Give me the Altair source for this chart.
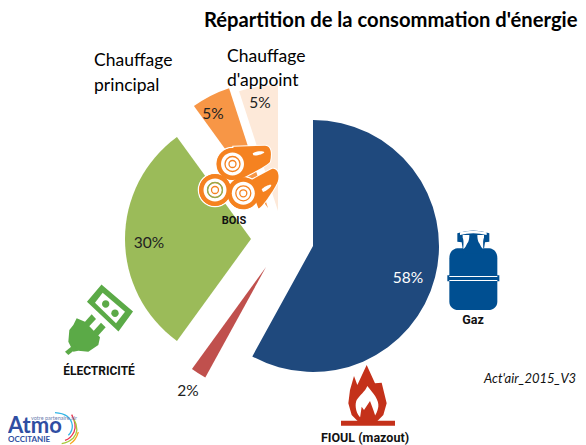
import re
import altair as alt
import pandas as pd

# ---- data
energies = ["Fioul", "Gaz/autre", "Électricité", "Bois principal", "Bois appoint"]
shares = [58, 2, 30, 5, 5]
share_labels = ["58%", "2%", "30%", "5%", "5%"]
colors = ["#1F497D", "#C0504D", "#9BBB59", "#F79646", "#FDE9D9"]
centre_x = [313, 266, 251, 268, 278]
centre_y = [246, 267, 239, 208, 211]
RADIUS = 126

W, H = 570, 437
px_x = alt.Scale(domain=[8, 8 + W], range=[0, W], nice=False, zero=False)
px_y = alt.Scale(domain=[8, 8 + H], range=[0, H], nice=False, zero=False)
X = alt.X("x:Q", scale=px_x, axis=None)
Y = alt.Y("y:Q", scale=px_y, axis=None)

starts = [sum(shares[:i]) for i in range(len(shares))]
pie = pd.DataFrame({
    "energie": energies, "start": starts,
    "end": [s + v for s, v in zip(starts, shares)],
    "x": centre_x, "y": centre_y,
})
slices = alt.Chart(pie).mark_arc(outerRadius=RADIUS, innerRadius=0, stroke=None).encode(
    x=X, y=Y,
    theta=alt.Theta("start:Q", scale=alt.Scale(domain=[0, 100], range=[0, 6.283185307])),
    theta2="end:Q",
    color=alt.Color("energie:N", scale=alt.Scale(domain=energies, range=colors), legend=None),
)


# ---- pictograms, as vector paths
def tr(path, ox, oy, k=1 / 3):
    """Map a path drawn in zoomed-crop coordinates to picture pixels."""
    nums = iter(range(10 ** 6))

    def rep(m):
        v = float(m.group())
        i = next(nums)
        return f"{(ox if i % 2 == 0 else oy) + v * k:.2f}"

    return re.sub(r"-?\d+(?:\.\d+)?", rep, path)


def circle(cx, cy, r):
    return (f"M{cx - r:.2f} {cy:.2f}A{r} {r} 0 1 0 {cx + r:.2f} {cy:.2f}"
            f"A{r} {r} 0 1 0 {cx - r:.2f} {cy:.2f}Z")


ORANGE, WHITE, GREEN, BLUE, RED = "#F58220", "#FFFFFF", "#5BAA47", "#004F91", "#C4311A"
NONE = "transparent"
parts = []


def add(path, fill, stroke=NONE, sw=0):
    parts.append({"path": path, "fill": fill, "stroke": stroke, "sw": sw})


# logs
log_top = tr("M130 50L225 47C245 47 245 75 240 95C235 105 150 150 140 150Z", 190, 130)
log_low = tr("M175 155L245 117C262 112 270 135 263 155C255 175 215 235 205 235Z", 190, 130)
ends = [(232.5, 164), (243.3, 193.3), (215, 190)]
add(log_low, ORANGE, WHITE, 2)
add(log_top, ORANGE, WHITE, 2)
for cx, cy in ends:
    add(circle(cx, cy, 16.5), ORANGE, WHITE, 1.5)
add(log_low, ORANGE)
add(log_top, ORANGE)
for cx, cy in ends:
    add(circle(cx, cy, 16), ORANGE)
    add(circle(cx, cy, 11.5), WHITE)
    add(circle(cx, cy, 7.5), NONE, ORANGE, 1.3)
    add(circle(cx, cy, 3.5), NONE, ORANGE, 1.3)
add(circle(215, 190, 7.5), NONE, "#7DB55A", 1.2)
add(tr("M188 70C198 62 220 62 223 66C222 72 200 78 190 76Z", 190, 130), WHITE)
add(tr("M215 178C222 170 240 162 244 165C244 172 228 184 219 186Z", 190, 130), WHITE)

# plug
add(tr("M125 18L215 95L175 150L85 65Z", 60, 280), GREEN, GREEN, 2)
add(tr("M128 38L195 95L168 130L105 68Z", 60, 280), WHITE)
add(circle(105.7, 304, 3.7), GREEN)
add(circle(115, 313.3, 3.7), GREEN)
add(tr("M95 103L108 117L80 147L67 134Z", 60, 280), GREEN)
add(tr("M123 128L137 142L110 172L96 158Z", 60, 280), GREEN)
add(tr("M50 115L75 125L120 172L115 195L85 215L55 212L40 215L25 185L28 150L40 135Z", 60, 280), GREEN)
add(tr("M40 195L50 205L25 225L15 215Z", 60, 280), GREEN)

# gas bottle
add(tr("M52 70L148 70C165 72 172 85 172 100L172 230C172 245 160 255 145 255L55 255C40 255 28 245 28 230"
       "L28 100C28 85 35 72 52 70Z", 440, 225), BLUE)
add(tr("M52 25Q100 8 148 25L148 50L135 52L130 85L70 85L65 52L52 50Z", 440, 225), BLUE)
add(tr("M60 22Q100 12 140 22L140 30Q100 20 60 30Z", 440, 225), WHITE)
add(tr("M68 30L88 30C88 42 86 50 82 55C78 62 76 70 70 72C70 60 72 45 68 38Z", 440, 225), WHITE)
add(tr("M132 30L112 30C112 42 114 50 118 55C122 62 124 70 130 72C130 60 128 45 132 38Z", 440, 225), WHITE)
add(tr("M22 151L178 151L178 169L22 169Z", 440, 225), BLUE)
add(tr("M28 153L172 153L172 156L28 156Z", 440, 225), WHITE)
add(tr("M28 165L172 165L172 168L28 168Z", 440, 225), WHITE)

# flame
add(tr("M3 182L165 182L165 197L3 197Z", 340, 360), RED)
add(tr("M80 15L105 70L125 68L140 130L130 165L110 185L55 185L35 165L25 130L30 90L42 48L52 75Z", 340, 360), RED)
add(tr("M82 78C100 100 118 120 115 140C112 155 108 165 100 172L60 172C45 155 45 130 50 120C60 105 75 95 82 78Z",
       340, 360), WHITE)
add(tr("M60 174L65 140L72 150L90 123L100 150L108 174Z", 340, 360), RED)

# logo swooshes
add(tr("M165 572Q212 575 217 610Q218 628 205 640", 0, 222), NONE, "#35B6E6", 1.3)
add(tr("M215 578Q232 610 222 630Q212 650 195 655", 0, 222), NONE, "#E8344E", 1.3)
add(tr("M222 592Q240 625 220 648Q205 662 185 665", 0, 222), NONE, "#A6C93A", 1.3)
add(tr("M235 630Q228 655 210 666", 0, 222), NONE, "#F7A823", 1.3)

icons = alt.Chart(pd.DataFrame(parts).assign(x=0, y=0)).mark_point(size=4, opacity=1, filled=False).encode(
    x=X, y=Y,
    shape=alt.Shape("path:N", scale=None),
    fill=alt.Fill("fill:N", scale=None),
    stroke=alt.Stroke("stroke:N", scale=None),
    strokeWidth=alt.StrokeWidth("sw:Q", scale=None),
    order=alt.Order("idx:Q"),
).transform_window(idx="row_number()")


# ---- text
def text(rows, **mark):
    d = pd.DataFrame(rows, columns=["t", "x", "y"])
    return alt.Chart(d).mark_text(**mark).encode(x=X, y=Y, text="t:N")


BODY = dict(font="Lato", align="left", baseline="alphabetic", color="#000000")
title = text([("Répartition de la consommation d'énergie", 204, 27)], fontWeight="bold", fontSize=20.2, **BODY)
names = text([("Chauffage", 94, 66), ("principal", 94, 91), ("Chauffage", 227, 62), ("d'appoint", 227, 86)],
             fontSize=17.5, **BODY)
PCT = dict(font="Lato", align="center", baseline="middle", fontSize=15.5)
label_x = [408, 188, 149, 213, 260]
label_y = [278, 391, 243, 114, 103]
dark = [(share_labels[i], label_x[i], label_y[i]) for i in range(1, 5)]
pct = text(dark, color="#222222", **PCT)
pct_w = text([(share_labels[0], label_x[0], label_y[0])], color="#FFFFFF", **PCT)
ICON = dict(font="Roboto", fontWeight="bold", align="center", baseline="middle", color="#111111")
cap1 = text([("BOIS", 234, 221)], fontSize=11, **ICON)
cap2 = text([("ÉLECTRICITÉ", 99, 371)], fontSize=12, **ICON)
cap3 = text([("Gaz", 473, 320), ("FIOUL (mazout)", 365, 438)], fontSize=12.5, **ICON)
ver = text([("Act'air_2015_V3", 484, 383)], font="Lato", fontStyle="italic", fontSize=13, align="left",
           baseline="alphabetic", color="#111111")
logo1 = text([("Atmo", 8, 433)], font="Lato", fontWeight="bold", fontSize=22, align="left",
             baseline="alphabetic", color="#2F4EA2")
logo2 = text([("OCCITANIE", 8, 442)], font="Lato", fontWeight="bold", fontSize=8, align="left",
             baseline="alphabetic", color="#2F4EA2")
logo3 = text([("votre partenaire air", 31, 420)], font="Lato", fontSize=5.5, align="left",
             baseline="alphabetic", color="#6F7FB0")

chart = alt.layer(slices, icons, title, names, pct, pct_w, cap1, cap2, cap3, ver, logo1, logo2, logo3).properties(
    width=W, height=H, padding=0, autosize=alt.AutoSizeParams(type="none"),
).configure_view(stroke=None)

chart.save("out.html", embed_options={"renderer": "svg", "actions": False})
